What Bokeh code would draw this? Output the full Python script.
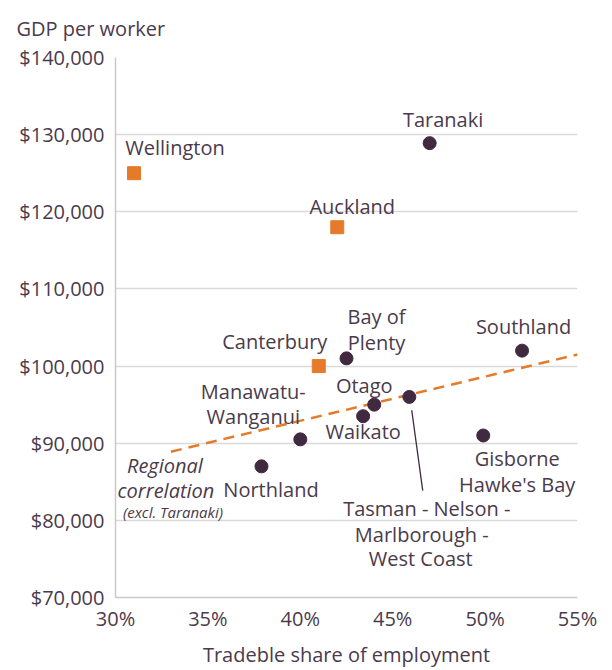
from bokeh.plotting import figure
from bokeh.models import Label, NumeralTickFormatter, FixedTicker
from bokeh.embed import file_html
from bokeh.resources import INLINE

# ---------------- data ----------------
city_names = ["Wellington", "Auckland", "Canterbury"]
city_share = [0.31, 0.42, 0.41]
city_gdp = [125000, 118000, 100000]

region_names = ["Taranaki", "Bay of Plenty", "Southland", "Otago", "Waikato",
                "Tasman-Nelson-Marlborough-West Coast", "Manawatu-Wanganui",
                "Northland", "Gisborne Hawke's Bay"]
region_share = [0.47, 0.425, 0.52, 0.44, 0.434, 0.459, 0.40, 0.379, 0.499]
region_gdp = [128900, 101000, 102000, 95000, 93500, 96000, 90500, 87000, 91000]

trend_share = [0.33, 0.55]
trend_gdp = [88900, 101500]

x_ticks = [0.30, 0.35, 0.40, 0.45, 0.50, 0.55]
y_ticks = [70000, 80000, 90000, 100000, 110000, 120000, 130000, 140000]

y_title = "GDP per worker"
x_title = "Tradeble share of employment"

# ---------------- label layout: (line text, dx px, dy px up) ----------------
city_label_lines = [
    [("Wellington", 41, 25.6)],
    [("Auckland", 15, 21)],
    [("Canterbury", -44, 24.6)],
]
region_label_lines = [
    [("Taranaki", 13.4, 23.4)],
    [("Bay of", 30, 42.3), ("Plenty", 30, 16)],
    [("Southland", 1.5, 24)],
    [("Otago", -10, 19.4)],
    [("Waikato", 0, -15)],
    [("Tasman - Nelson -", 17.4, -111.7), ("Marlborough -", 12.4, -137.7), ("West Coast", 11.4, -161.7)],
    [("Manawatu-", -47, 47.4), ("Wanganui", -47, 23)],
    [("Northland", 9.5, -22.7)],
    [("Gisborne", 34, -22.7), ("Hawke's Bay", 34, -49.4)],
]
note_lines = [("Regional", -6, -13.3, "20px"), ("correlation", -5, -39, "20px"),
              ("(excl. Taranaki)", 2, -60, "15px")]

TEXT = "#4b3a4c"
DOT = "#41293f"
ORANGE = "#e57a2a"
FONT = "Open Sans"
FS = "20px"

W, H = 610, 670
ML, MR, MT, MB = 115, 33, 56, 72
FW, FH = W - ML - MR, H - MT - MB

p = figure(width=W, height=H, x_range=(0.30, 0.55), y_range=(70000, 140000),
           output_backend="svg", toolbar_location=None,
           min_border_left=ML, min_border_right=MR, min_border_top=MT, min_border_bottom=MB)
p.outline_line_color = None
p.background_fill_color = "white"

# y title at top-left
p.title.text = y_title
p.title.align = "left"
p.title.vertical_align = "top"
p.title.offset = -99
p.title.standoff = 28
p.title.text_font = FONT
p.title.text_font_size = FS
p.title.text_font_style = "normal"
p.title.text_color = TEXT

# axes
p.xaxis.ticker = FixedTicker(ticks=x_ticks)
p.xaxis.formatter = NumeralTickFormatter(format="0%")
p.yaxis.ticker = FixedTicker(ticks=y_ticks)
p.yaxis.formatter = NumeralTickFormatter(format="$0,0")
for ax in (p.xaxis[0], p.yaxis[0]):
    ax.major_tick_line_color = None
    ax.minor_tick_line_color = None
    ax.major_tick_out = 0
    ax.major_tick_in = 0
    ax.axis_line_color = "#c9c9c9"
    ax.axis_line_width = 1.5
    ax.major_label_text_font = FONT
    ax.major_label_text_font_size = FS
    ax.major_label_text_color = TEXT
p.xaxis.major_label_standoff = 7
p.yaxis.major_label_standoff = 11
p.xaxis.axis_label = x_title
p.xaxis.axis_label_text_font = FONT
p.xaxis.axis_label_text_font_size = FS
p.xaxis.axis_label_text_font_style = "normal"
p.xaxis.axis_label_text_color = TEXT
p.xaxis.axis_label_standoff = 6

p.xgrid.visible = False
p.ygrid.grid_line_color = "#d9d9d9"
p.ygrid.grid_line_width = 1.5

# trend line
p.line(trend_share, trend_gdp, line_color=ORANGE, line_width=2.5, line_dash="11 7")

# leader line for Tasman label (pixel offsets converted via the scales)
ti = 5
px_x = 0.25 / FW
px_y = 70000 / FH
p.segment(x0=[region_share[ti] + 2.4 * px_x], y0=[region_gdp[ti] - 13.4 * px_y],
          x1=[region_share[ti] + 13.4 * px_x], y1=[region_gdp[ti] - 94 * px_y],
          line_color=DOT, line_width=1.3)

# markers
p.scatter(region_share, region_gdp, marker="circle", size=13, fill_color=DOT, line_color=DOT)
p.scatter(city_share, city_gdp, marker="square", size=13, fill_color=ORANGE, line_color=ORANGE)


def add_labels(xs, ys, lines_per_point, size=FS, style="normal"):
    for x, y, lines in zip(xs, ys, lines_per_point):
        for (t, dx, dy) in lines:
            p.add_layout(Label(x=x, y=y, text=t, x_offset=dx, y_offset=dy,
                               text_align="center", text_baseline="middle",
                               text_font=FONT, text_font_size=size,
                               text_font_style=style, text_color=TEXT))


add_labels(city_share, city_gdp, city_label_lines)
add_labels(region_share, region_gdp, region_label_lines)
for (t, dx, dy, fs) in note_lines:
    add_labels([trend_share[0]], [trend_gdp[0]], [[(t, dx, dy)]], size=fs, style="italic")

open("out.html", "w").write(file_html(p, INLINE))
